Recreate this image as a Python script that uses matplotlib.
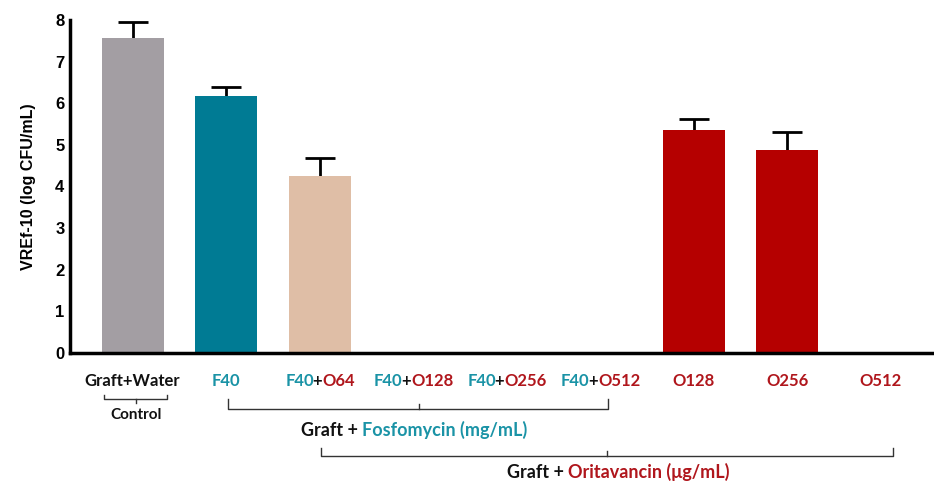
import matplotlib.pyplot as plt
import matplotlib.transforms as mtransforms
from matplotlib.font_manager import FontProperties, findfont, get_font
import numpy as np

# data
groups = ['Graft+Water', 'F40', 'F40+O64', 'F40+O128', 'F40+O256',
          'F40+O512', 'O128', 'O256', 'O512']
means = [7.57, 6.18, 4.25, 0, 0, 0, 5.36, 4.88, 0]
errs = [0.38, 0.22, 0.43, 0, 0, 0, 0.25, 0.42, 0]
bar_colors = ['#a39ea3', '#007b94', '#dfbea6', '#b50000', '#b50000',
              '#b50000', '#b50000', '#b50000', '#b50000']

TEAL = '#1a93a6'
RED = '#b0161c'
BLACK = '#111111'

# colored pieces of each tick label
label_parts = [
    [('Graft+Water', BLACK)],
    [('F40', TEAL)],
    [('F40', TEAL), ('+', BLACK), ('O64', RED)],
    [('F40', TEAL), ('+', BLACK), ('O128', RED)],
    [('F40', TEAL), ('+', BLACK), ('O256', RED)],
    [('F40', TEAL), ('+', BLACK), ('O512', RED)],
    [('O128', RED)],
    [('O256', RED)],
    [('O512', RED)],
]

fig = plt.figure(figsize=(9.34, 4.83), dpi=100)
ax = fig.add_axes([70 / 934, 1 - 353 / 483, 1 - 70 / 934, 333 / 483])

x = np.arange(len(groups))
m = np.array(means)
e = np.array(errs)
ax.bar(x, m, width=0.66, color=bar_colors, zorder=2)
# upper-only error bars
has = m > 0
ax.vlines(x[has], m[has], m[has] + e[has], color='black', lw=2, zorder=1)
ax.hlines(m[has] + e[has], x[has] - 0.16, x[has] + 0.16, color='black', lw=2,
          zorder=1)

ax.set_xlim(-0.67, 8.57)
ax.set_ylim(0, 8)
ax.set_yticks(range(0, 9))
ax.set_xticks([])
for lab in ax.get_yticklabels():
    lab.set_fontweight('bold')
    lab.set_fontfamily('Liberation Sans')
    lab.set_fontsize(12)
ax.tick_params(axis='y', length=0, pad=4)
ax.set_ylabel('VREf-10 (log CFU/mL)', fontsize=11.5, fontweight='bold',
              family='Liberation Sans', labelpad=14)
for s in ['top', 'right']:
    ax.spines[s].set_visible(False)
ax.spines['left'].set_linewidth(2.5)
ax.spines['bottom'].set_linewidth(2.5)

fig.canvas.draw()
renderer = fig.canvas.get_renderer()
FONT = 'Lato'


def text_width(s, size, weight):
    t = fig.text(0, 0, s, fontsize=size, fontweight=weight, family=FONT)
    w = t.get_window_extent(renderer).width
    t.remove()
    return w


def lsb(s, size, weight):
    # left bearing that the Agg renderer adds in front of the ink
    f = get_font(findfont(FontProperties(family=FONT, weight=weight, size=size)))
    f.clear()
    f.set_size(size, fig.dpi)
    f.set_text(s, 0.0)
    return f.get_bitmap_offset()[0] / 64.0


def multicolor(xpos, ypos, parts, transform, size=11, weight='bold'):
    # each piece ends where the same prefix of the whole string ends
    full = ''.join(p for p, _ in parts)
    base = lsb(full, size, weight)
    pre = ''
    shift = 0.0
    placed = []
    for txt, col in parts:
        if txt == '+':
            shift -= 2.0   # a bit tighter, like the original labels
        pre += txt
        off = text_width(pre, size, weight) - text_width(txt, size, weight)
        off += base - lsb(txt, size, weight) + shift
        placed.append((txt, col, off))
    total = text_width(full, size, weight) + shift
    for txt, col, off in placed:
        tr = mtransforms.offset_copy(transform, fig=fig, x=off - total / 2,
                                     y=0, units='dots')
        fig.text(xpos, ypos, txt, color=col, fontsize=size, fontweight=weight,
                 family=FONT, ha='left', va='baseline', transform=tr)


def to_fig(px, py):
    return px / 934, 1 - py / 483


blend = mtransforms.blended_transform_factory(ax.transData, fig.transFigure)
for xi, parts in zip(x, label_parts):
    multicolor(xi, to_fig(0, 386)[1], parts, blend, size=12)


def bracket(x0, x1, yline, end_dy, xc, tick_dy):
    ys = 1 - yline / 483
    ye = 1 - (yline + end_dy) / 483
    yt = 1 - (yline + tick_dy) / 483
    kw = dict(color='#333333', lw=1, transform=fig.transFigure)
    fig.add_artist(plt.Line2D([x0 / 934, x0 / 934, x1 / 934, x1 / 934],
                              [ye, ys, ys, ye], **kw))
    fig.add_artist(plt.Line2D([xc / 934, xc / 934], [ys, yt], **kw))


# control bracket
bracket(104, 167, 399, -4, 136, 4)
fig.text(*to_fig(136, 415), 'Control', ha='center', va='center',
         fontsize=11, fontweight='bold', family=FONT, color=BLACK)

# fosfomycin bracket
bracket(228, 608, 409, -10, 419, -5)
multicolor(414 / 934, 1 - 436 / 483,
           [('Graft + ', BLACK), ('Fosfomycin (mg/mL)', TEAL)],
           fig.transFigure, size=13)

# oritavancin bracket
bracket(321, 893, 456, -8, 607, -5)
multicolor(618 / 934, 1 - 478 / 483,
           [('Graft + ', BLACK), ('Oritavancin (\u03bcg/mL)', RED)],
           fig.transFigure, size=13)

fig.savefig('out.png', dpi=100)
